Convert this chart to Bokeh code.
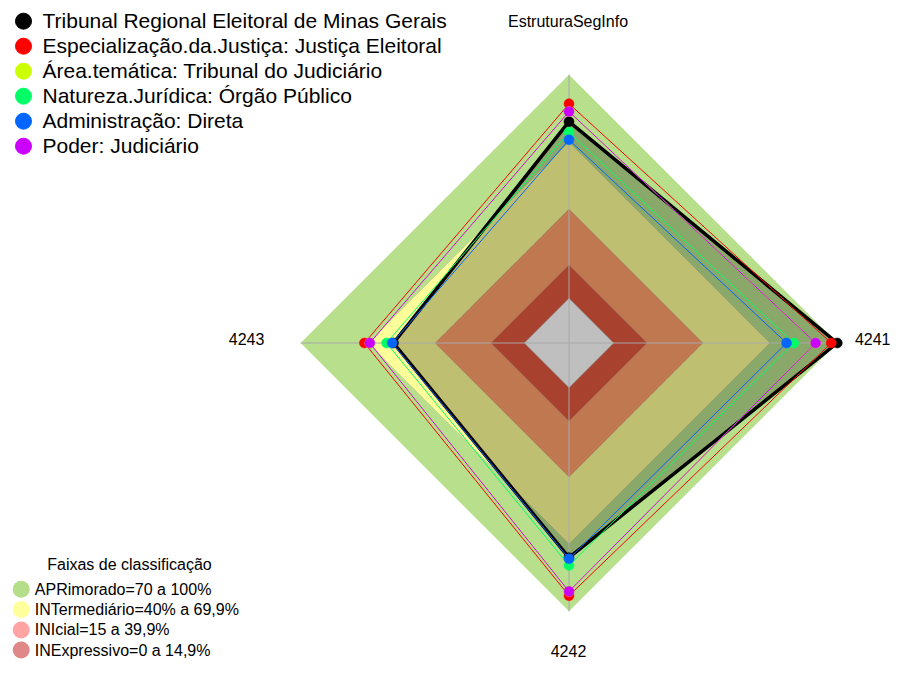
import numpy as np
from bokeh.plotting import figure
from bokeh.models import Range1d
from bokeh.core.properties import value
from bokeh.embed import file_html
from bokeh.resources import INLINE

# ---------------- data ----------------
axes_labels = ["EstruturaSegInfo", "4243", "4242", "4241"]
axes_angles_deg = [90, 180, 270, 0]

series_names = [
    "Tribunal Regional Eleitoral de Minas Gerais",
    "Especialização.da.Justiça: Justiça Eleitoral",
    "Área.temática: Tribunal do Judiciário",
    "Natureza.Jurídica: Órgão Público",
    "Administração: Direta",
    "Poder: Judiciário",
]
series_colors = ["#000000", "#FF0000", "#CCFF00", "#00FF66", "#0066FF", "#CC00FF"]
trmg = [79.0, 58.5, 76.0, 100.0]
especializacao = [87.0, 71.5, 93.0, 97.3]
area_tematica = [83.5, 69.1, 91.1, 90.3]
natureza = [74.3, 61.6, 79.5, 80.5]
administracao = [70.9, 59.1, 76.5, 77.3]
poder = [83.5, 69.1, 91.1, 90.3]
series_values = [trmg, especializacao, area_tematica, natureza, administracao, poder]

band_names = ["APRimorado=70 a 100%", "INTermediário=40% a 69,9%",
              "INIcial=15 a 39,9%", "INExpressivo=0 a 14,9%"]
band_upper = [100, 69.9, 39.9, 14.9]
band_fill = ["#B8E08C", "#FFFF99", "#FFA16B", "#E0573C"]
band_legend_colors = ["#B5DE8B", "#FFFF9C", "#FFA3A3", "#E08888"]
axis_min, axis_max = -20, 100

# ---------------- geometry ----------------
W, H = 893, 659
CX, CY = 568.5, 342.5   # centre in picture pixels
RMAX = 268.3

def X(px):
    return px - CX

def Y(py):
    return CY - py

def radius(v):
    return (np.asarray(v, dtype=float) - axis_min) / (axis_max - axis_min) * RMAX

ang = np.deg2rad(axes_angles_deg)

def poly(vals):
    r = radius(vals)
    return list(r * np.cos(ang)), list(r * np.sin(ang))

p = figure(width=W, height=H, output_backend="svg", toolbar_location=None,
           x_range=Range1d(X(0), X(W)), y_range=Range1d(Y(H), Y(0)),
           x_axis_location=None, y_axis_location=None, min_border=0,
           background_fill_color="white", border_fill_color="white")
p.grid.visible = False
p.outline_line_color = None

# bands
for up, col in zip(band_upper, band_fill):
    xs, ys = poly([up] * 4)
    p.patch(xs, ys, fill_color=col, line_color=None)
xs, ys = poly([0] * 4)
p.patch(xs, ys, fill_color="white", line_color="#AAAAAA", line_width=0.6)
for up in band_upper[1:]:
    xs, ys = poly([up] * 4)
    p.line(xs + xs[:1], ys + ys[:1], line_color="#999999", line_alpha=0.35, line_width=0.8)

# fill of first series
xs, ys = poly(trmg)
p.patch(xs, ys, fill_color="black", fill_alpha=0.25, line_color=None)

# axis spokes
rr = radius(axis_max)
for a in ang:
    p.line([0, rr * np.cos(a)], [0, rr * np.sin(a)], line_color="#A8A8A8", line_width=1)

# series
for i, (vals, col) in enumerate(zip(series_values, series_colors)):
    xs, ys = poly(vals)
    p.line(xs + xs[:1], ys + ys[:1], line_color=col, line_width=3.5 if i == 0 else 1)
    p.scatter(xs, ys, size=10, fill_color=col, line_color=col, line_width=0.5)

FONT = value("Liberation Sans")

def label(x, y, txt, size, align):
    p.text([X(x)], [Y(y)], text=[txt], text_font=FONT, text_font_size=size,
           text_align=align, text_baseline="middle", text_color="black")

# axis labels (y = middle of capitals)
label(567.5, 20.7, axes_labels[0], "16px", "center")
label(228.3, 338.5, axes_labels[1], "16px", "left")
label(568, 650.5, axes_labels[2], "16px", "center")
label(890, 338.5, axes_labels[3], "16px", "right")

# series legend (top-left)
ly = [20.7 + 25 * i for i in range(len(series_names))]
p.scatter([X(23)] * len(ly), [Y(v) for v in ly], size=16, fill_color=series_colors,
          line_color=series_colors)
p.text([X(42)] * len(ly), [Y(v - 0.6) for v in ly], text=series_names, text_font=FONT,
       text_font_size="21px", text_align="left", text_baseline="middle", text_color="black")

# band legend (bottom-left)
label(129, 563.5, "Faixas de classificação", "16px", "center")
by = [588.8, 609.1, 629.4, 649.5]
p.scatter([X(20.7)] * 4, [Y(v) for v in by], size=17, fill_color=band_legend_colors,
          line_color=None)
p.text([X(34.3)] * 4, [Y(v) for v in by], text=band_names, text_font=FONT,
       text_font_size="16px", text_align="left", text_baseline="middle", text_color="black")

open("out.html", "w").write(file_html(p, INLINE))
